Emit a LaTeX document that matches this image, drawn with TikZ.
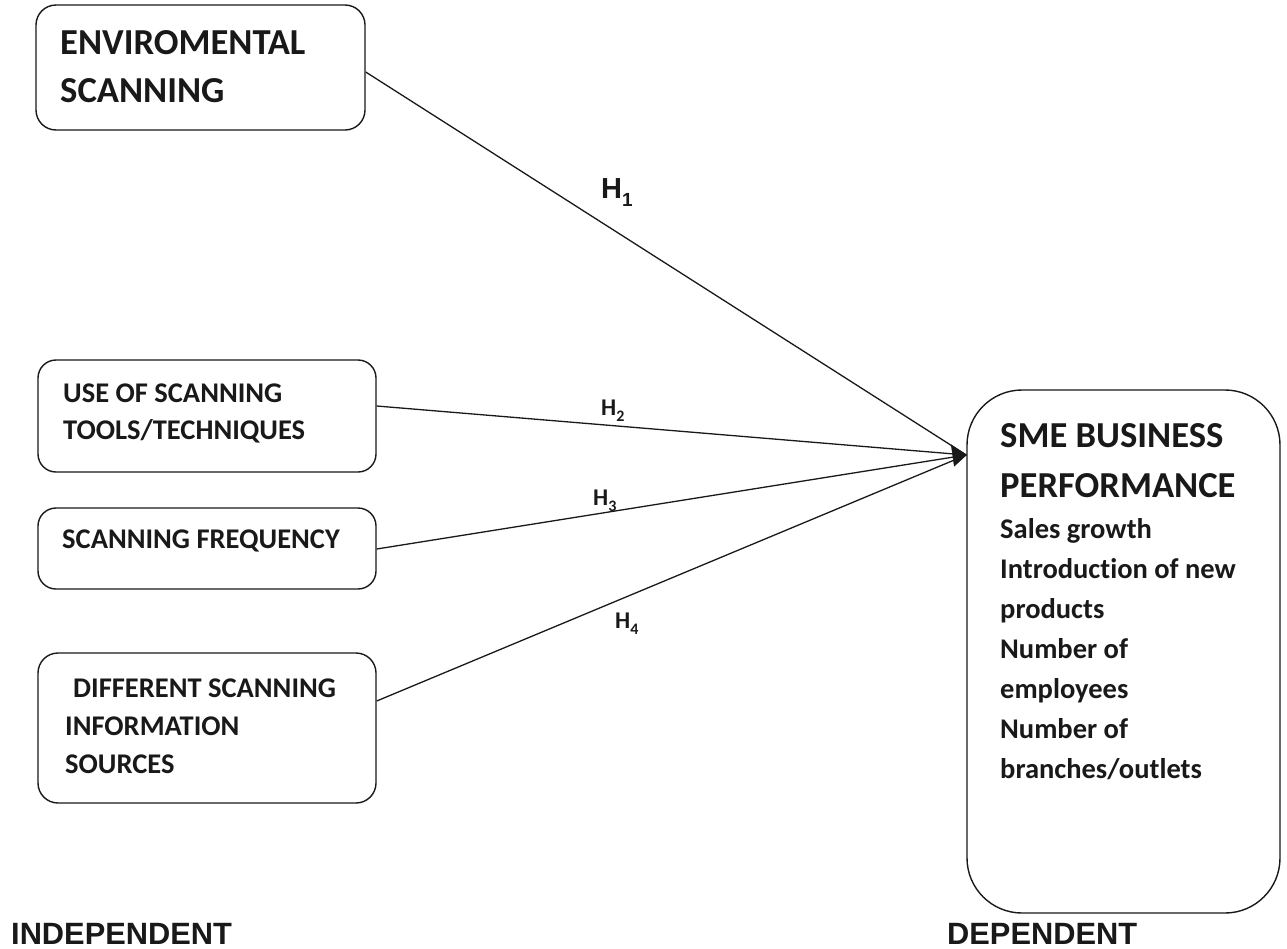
\documentclass[tikz,border=0pt]{standalone}
\usepackage{fontspec}
\setmainfont{Carlito}[Ligatures=NoCommon]
\newfontfamily\arialf{Liberation Sans}
\usetikzlibrary{arrows.meta}
\tikzset{
  box/.style={draw=black!90, line width=1.4pt, rectangle, inner sep=0pt},
  txt/.style={anchor=base west, inner sep=0pt, font=\bfseries\fontsize{28.5}{28.5}\selectfont, text=black!90},
  bigtxt/.style={anchor=base west, inner sep=0pt, font=\bfseries\fontsize{36.6}{36.6}\selectfont, text=black!90},
  hlab/.style={anchor=base west, inner sep=0pt, font=\bfseries\fontsize{24}{24}\selectfont, text=black!90},
  foot/.style={anchor=base west, inner sep=0pt, font=\arialf\bfseries\fontsize{30.8}{31}\selectfont, text=black!90},
  conn/.style={line width=1.3pt, draw=black!90},
  headfill/.style={fill=black!90, draw=black!90, line width=0.6pt, line join=miter}
}
\newcommand{\subtxt}[2]{\raisebox{-0.28em}{\fontsize{#1}{#1}\selectfont #2}}
\begin{document}
\begin{tikzpicture}[x=1pt,y=-1pt]
\useasboundingbox (0,0) rectangle (1287,948);
% boxes
\node[box, rounded corners=20pt, minimum width=329pt, minimum height=125pt] (env) at (200.5,67.5) {};
\node[box, rounded corners=18pt, minimum width=338pt, minimum height=112pt] (tools) at (207,416) {};
\node[box, rounded corners=18pt, minimum width=338pt, minimum height=81pt] (freq) at (207,548.5) {};
\node[box, rounded corners=20pt, minimum width=338pt, minimum height=150pt] (src) at (207,728) {};
\node[box, rounded corners=55pt, minimum width=313pt, minimum height=523pt] (sme) at (1123.5,651.5) {};
% texts
\node[bigtxt] (t1a) at (60,54) {ENVIROMENTAL};
\node[bigtxt] (t1b) at (60,102) {SCANNING};
\node[txt] (t2a) at (63,402) {USE OF SCANNING};
\node[txt] (t2b) at (63,439) {TOOLS/TECHNIQUES};
\node[txt] (t3) at (62,548) {SCANNING FREQUENCY};
\node[txt] (t4a) at (73,697) {DIFFERENT SCANNING};
\node[txt] (t4b) at (65,735) {INFORMATION};
\node[txt] (t4c) at (65,773) {SOURCES};
\node[bigtxt] (s1) at (1000,447) {SME BUSINESS};
\node[bigtxt] (s2) at (1000,497) {PERFORMANCE};
\node[txt] (s3) at (1000,538) {Sales growth};
\node[txt] (s4) at (1000,578) {Introduction of new};
\node[txt] (s5) at (1000,618) {products};
\node[txt] (s6) at (1000,658) {Number of};
\node[txt] (s7) at (1000,698) {employees};
\node[txt] (s8) at (1000,738) {Number of};
\node[txt] (s9) at (1000,778) {branches/outlets};
% connectors
\coordinate (tip) at ([yshift=196.5pt]sme.west);
\draw[conn] ([yshift=-4.5pt]env.east) -- (tip);
\draw[conn] ([yshift=10pt]tools.east) -- (tip);
\draw[conn] ([yshift=27pt]src.east) -- (tip);
\draw[conn] ([yshift=-0.5pt]freq.east) -- (tip);
% arrowhead at the common tip
\filldraw[headfill] (tip) -- ++(-15,-10) -- ++(3,21) -- cycle;
% hypothesis labels
\node[anchor=base west, inner sep=0pt, font=\arialf\bfseries\fontsize{29}{29}\selectfont, text=black!90] (h1) at (601,198) {H\subtxt{19}{1}};
\node[hlab] (h2) at (601,415) {H\subtxt{16}{2}};
\node[hlab] (h3) at (593,505) {H\subtxt{16}{3}};
\node[hlab] (h4) at (615,628) {H\subtxt{16}{4}};
% footers
\node[foot] (ind) at (11,944) {INDEPENDENT};
\node[foot] (dep) at (947,944) {DEPENDENT};
\end{tikzpicture}
\end{document}
